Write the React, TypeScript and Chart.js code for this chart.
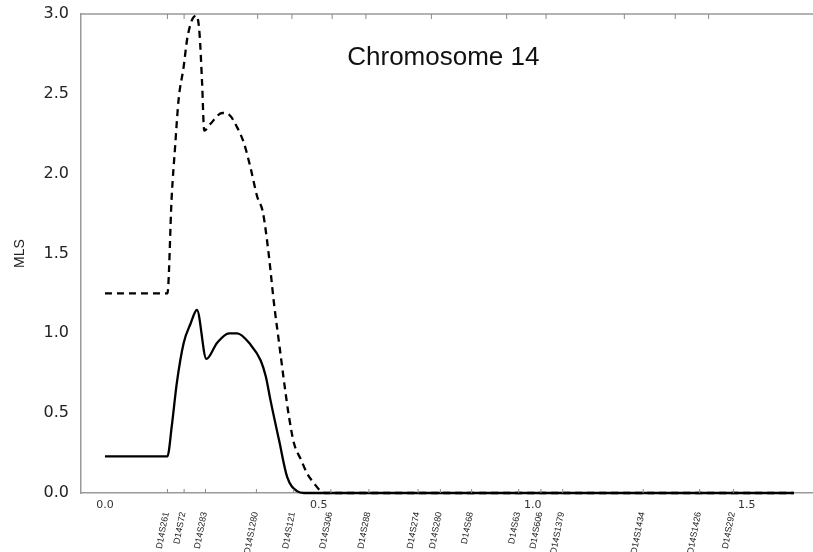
import React, { useEffect, useRef } from "react";
import { Chart, registerables } from "chart.js";

Chart.register(...registerables);

// ---- data ----
const chartTitle = "Chromosome 14";
const yAxisTitle = "MLS";
const xTickValues = [0, 0.5, 1.0, 1.5];
const yTickStep = 0.5;

const solidX = [0, 0.146, 0.156, 0.168, 0.184, 0.2, 0.215, 0.237, 0.262, 0.29, 0.309, 0.34, 0.364, 0.376, 0.387, 0.407, 0.426, 0.45, 0.465, 1.61];
const solidY = [0.23, 0.23, 0.415, 0.69, 0.94, 1.06, 1.146, 0.84, 0.94, 1.0, 1.0, 0.93, 0.83, 0.73, 0.58, 0.33, 0.1, 0.01, 0, 0];

const dashedX = [0, 0.146, 0.156, 0.164, 0.172, 0.184, 0.192, 0.203, 0.214, 0.221, 0.227, 0.232, 0.246, 0.274, 0.29, 0.309, 0.325, 0.34, 0.356, 0.369, 0.383, 0.395, 0.407, 0.419, 0.43, 0.442, 0.458, 0.473, 0.489, 0.505, 0.52, 1.61];
const dashedY = [1.25, 1.25, 1.855, 2.17, 2.46, 2.67, 2.84, 2.96, 2.99, 2.88, 2.57, 2.27, 2.31, 2.38, 2.37, 2.29, 2.19, 2.04, 1.855, 1.76, 1.49, 1.19, 0.94, 0.69, 0.48, 0.31, 0.21, 0.12, 0.06, 0.01, 0, 0];

const markerNames = ["D14S261", "D14S72", "D14S283", "D14S1280", "D14S121", "D14S306", "D14S288", "D14S274", "D14S280", "D14S68", "D14S63", "D14S606", "D14S1379", "D14S1434", "D14S1426", "D14S292"];
const markerPos = [0.146, 0.185, 0.235, 0.354, 0.441, 0.528, 0.617, 0.732, 0.784, 0.857, 0.967, 1.019, 1.07, 1.258, 1.39, 1.469];
const topTickPos = [0.146, 0.185, 0.357, 0.437, 0.531, 0.61, 0.763, 0.939, 1.031, 1.214, 1.333, 1.411];

const X_MIN = -0.056;
const X_MAX = 1.655;

const overlayPlugin = {
  id: "overlay",
  afterDraw(chart: any) {
    const { ctx, chartArea } = chart;
    const xs = chart.scales.x;
    ctx.save();
    // top border
    ctx.strokeStyle = "#9a9a9a";
    ctx.lineWidth = 1.5;
    ctx.beginPath();
    ctx.moveTo(chartArea.left, chartArea.top);
    ctx.lineTo(chartArea.right, chartArea.top);
    ctx.stroke();
    // top ticks
    ctx.lineWidth = 1;
    ctx.strokeStyle = "#888";
    topTickPos.forEach((v) => {
      const px = xs.getPixelForValue(v);
      ctx.beginPath();
      ctx.moveTo(px, chartArea.top);
      ctx.lineTo(px, chartArea.top + 5);
      ctx.stroke();
    });
    // bottom marker ticks
    markerPos.forEach((v) => {
      const px = xs.getPixelForValue(v);
      ctx.beginPath();
      ctx.moveTo(px, chartArea.bottom);
      ctx.lineTo(px, chartArea.bottom - 4);
      ctx.stroke();
    });
    // marker labels
    ctx.fillStyle = "#222";
    ctx.font = "9px 'Liberation Sans', Arial, sans-serif";
    ctx.textAlign = "right";
    ctx.textBaseline = "middle";
    markerNames.forEach((name, i) => {
      const px = xs.getPixelForValue(markerPos[i]);
      ctx.save();
      ctx.translate(px - 1, chartArea.bottom + 19);
      ctx.rotate((-79 * Math.PI) / 180);
      ctx.fillText(name, 0, 0);
      ctx.restore();
    });
    // chart title inside plot
    ctx.fillStyle = "#111";
    ctx.font = "26px 'Liberation Sans', Arial, sans-serif";
    ctx.textAlign = "center";
    ctx.textBaseline = "middle";
    ctx.fillText(chartTitle, chartArea.left + (chartArea.right - chartArea.left) * 0.495, chartArea.top + 44);
    ctx.restore();
  },
};

export default function App() {
  const ref = useRef<HTMLCanvasElement | null>(null);
  useEffect(() => {
    document.body.style.margin = "0";
    const canvas = ref.current;
    if (!canvas) return;
    const chart = new Chart(canvas, {
      type: "line",
      data: {
        datasets: [
          {
            label: "dashed",
            data: dashedX.map((x, i) => ({ x, y: dashedY[i] })),
            borderColor: "#000",
            borderWidth: 2.3,
            borderDash: [7, 5],
            pointRadius: 0,
            fill: false,
            cubicInterpolationMode: "monotone",
            clip: false as any,
          },
          {
            label: "solid",
            data: solidX.map((x, i) => ({ x, y: solidY[i] })),
            borderColor: "#000",
            borderWidth: 2.3,
            pointRadius: 0,
            fill: false,
            cubicInterpolationMode: "monotone",
            clip: false as any,
          },
        ],
      },
      options: {
        responsive: false,
        animation: false,
        devicePixelRatio: 1,
        layout: { padding: { top: 14, left: 0, right: 0, bottom: 0 } },
        plugins: { legend: { display: false }, tooltip: { enabled: false }, title: { display: false } },
        scales: {
          x: {
            type: "linear",
            min: X_MIN,
            max: X_MAX,
            afterBuildTicks: (s: any) => {
              s.ticks = xTickValues.map((v) => ({ value: v }));
            },
            afterFit: (s: any) => {
              s.height = 59;
              s.paddingLeft = 0;
              s.paddingRight = 0;
            },
            grid: { display: false, drawTicks: false },
            border: { display: true, color: "#9a9a9a", width: 1.5 },
            ticks: {
              autoSkip: false,
              maxRotation: 0,
              minRotation: 0,
              padding: 6,
              color: "#333",
              font: { family: "'DejaVu Sans', sans-serif", size: 11 },
              callback: (v: any) => Number(v).toFixed(1),
            },
          },
          y: {
            type: "linear",
            min: 0,
            max: 3,
            afterFit: (s: any) => {
              s.width = 81;
              s.paddingTop = 0;
              s.paddingBottom = 0;
            },
            grid: { display: false, drawTicks: false },
            border: { display: true, color: "#9a9a9a", width: 1.5 },
            ticks: {
              stepSize: yTickStep,
              padding: 12,
              color: "#222",
              font: { family: "'DejaVu Sans', sans-serif", size: 16 },
              callback: (v: any) => Number(v).toFixed(1),
            },
            title: {
              display: true,
              text: yAxisTitle,
              color: "#222",
              padding: { top: 12, bottom: 4 },
              font: { family: "'Liberation Sans', Arial, sans-serif", size: 14 },
            },
          },
        },
      },
      plugins: [overlayPlugin],
    });
    return () => chart.destroy();
  }, []);
  return (
    <div style={{ width: 813, height: 552, position: "relative" }}>
      <canvas ref={ref} width={813} height={552} />
    </div>
  );
}
